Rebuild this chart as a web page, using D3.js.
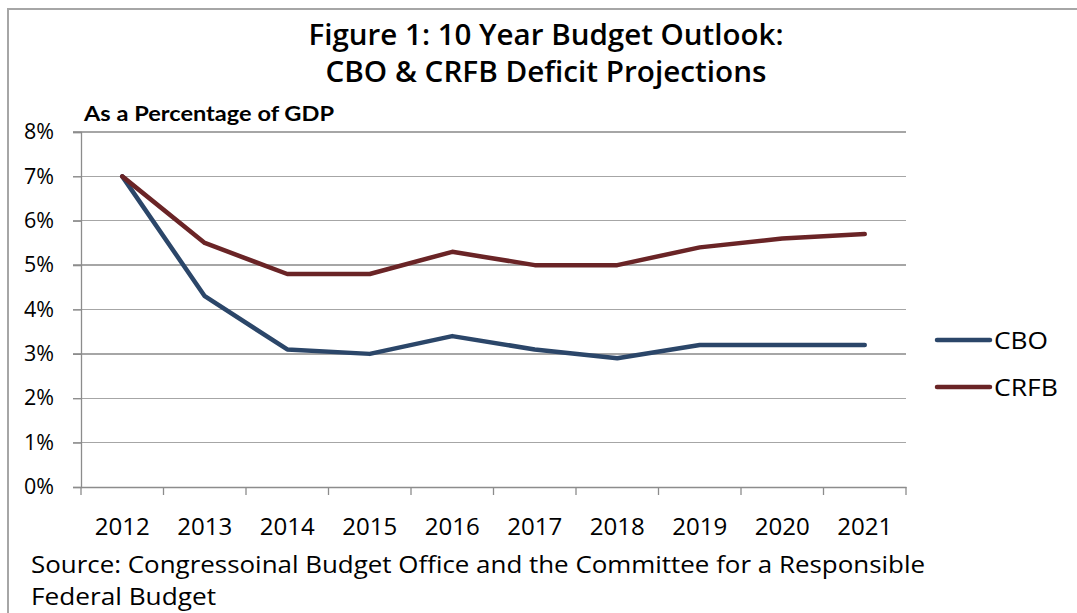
<!DOCTYPE html>
<html><head><meta charset="utf-8">
<script src="https://cdn.jsdelivr.net/npm/d3@7"></script>
<style>html,body{margin:0;padding:0;background:#fff;}svg{display:block;}</style>
</head><body>
<svg id="chart" width="1077" height="613"></svg>
<script>
const years = ["2012","2013","2014","2015","2016","2017","2018","2019","2020","2021"];
const cbo  = [7.0, 4.3, 3.1, 3.0, 3.4, 3.1, 2.9, 3.2, 3.2, 3.2];
const crfb = [7.0, 5.5, 4.8, 4.8, 5.3, 5.0, 5.0, 5.4, 5.6, 5.7];
const yTicks = [0,1,2,3,4,5,6,7,8];
const seriesNames = ["CBO","CRFB"];
const seriesColors = ["#2b4669","#6a2426"];
const titleLines = ["Figure 1: 10 Year Budget Outlook:","CBO & CRFB Deficit Projections"];
const subtitle = "As a Percentage of GDP";
const sourceLines = ["Source: Congressoinal Budget Office and the Committee for a Responsible","Federal Budget"];

(function(){
const svg = d3.select("#chart");
const FONT = "'Open Sans', Lato, sans-serif";

// frame
svg.append("path").attr("d","M8,613 L8,9 L1077,9")
  .attr("fill","none").attr("stroke","#a6a6a6").attr("stroke-width",2);

const pl=81, pr=906, pt=132, pb=487;
const x = d3.scaleBand().domain(years).range([pl,pr]);
const y = d3.scaleLinear().domain([0,8]).range([pb,pt]);

// gridlines
svg.append("g").selectAll("line").data(yTicks.filter(d=>d>0)).join("line")
  .attr("x1",pl-8).attr("x2",pr).attr("y1",d=>y(d)).attr("y2",d=>y(d))
  .attr("stroke","#a6a6a6").attr("stroke-width",1.3).attr("shape-rendering","crispEdges");

// y axis
const yAxis = svg.append("g").attr("transform",`translate(${pl},0)`)
  .call(d3.axisLeft(y).tickValues(yTicks).tickFormat(d=>d+"%").tickSize(8).tickPadding(19));
yAxis.select(".domain").attr("stroke","#8c8c8c").attr("stroke-width",1.3);
yAxis.selectAll(".tick line").attr("stroke","#8c8c8c").attr("stroke-width",1.3);
yAxis.selectAll("text").attr("font-family",FONT).attr("font-size",21).attr("fill","#000")
  .attr("textLength",30).attr("lengthAdjust","spacingAndGlyphs");

// x axis
const xAxis = svg.append("g").attr("transform",`translate(0,${pb})`)
  .call(d3.axisBottom(x).tickSize(0).tickPadding(32));
xAxis.select(".domain").attr("stroke","#8c8c8c").attr("stroke-width",1.3);
xAxis.selectAll("text").attr("font-family",FONT).attr("font-size",23).attr("fill","#000")
  .attr("textLength",55).attr("lengthAdjust","spacingAndGlyphs");
// category boundary ticks
const bounds = years.map(d=>x(d)).concat([pr]);
svg.append("g").selectAll("line").data(bounds).join("line")
  .attr("x1",d=>d).attr("x2",d=>d).attr("y1",pb).attr("y2",pb+8)
  .attr("stroke","#8c8c8c").attr("stroke-width",1.3);

// lines
const line = d3.line().x((d,i)=>x(years[i])+x.bandwidth()/2).y(d=>y(d));
[cbo,crfb].forEach((s,i)=>{
  svg.append("path").datum(s).attr("d",line).attr("fill","none")
    .attr("stroke",seriesColors[i]).attr("stroke-width",4.5)
    .attr("stroke-linejoin","round").attr("stroke-linecap","round");
});

// legend
const legendW = [54, 64];
const lg = svg.append("g").selectAll("g").data(seriesNames).join("g")
  .attr("transform",(d,i)=>`translate(937,${340+i*47})`);
lg.append("line").attr("x1",0).attr("x2",53).attr("stroke",(d,i)=>seriesColors[i])
  .attr("stroke-width",4.5).attr("stroke-linecap","round");
lg.append("text").attr("x",57).attr("y",8.5).text(d=>d)
  .attr("font-family",FONT).attr("font-size",23.5).attr("fill","#000")
  .attr("textLength",(d,i)=>legendW[i]).attr("lengthAdjust","spacingAndGlyphs");

// title
const titleW = [475, 441];
svg.append("g").selectAll("text").data(titleLines).join("text")
  .attr("x",546).attr("y",(d,i)=>45+i*37).attr("text-anchor","middle")
  .attr("font-family",FONT).attr("font-weight",600).attr("font-size",28).attr("fill","#000")
  .attr("textLength",(d,i)=>titleW[i]).attr("lengthAdjust","spacingAndGlyphs")
  .text(d=>d);

svg.append("text").attr("x",84).attr("y",121).text(subtitle)
  .attr("font-family","Lato, sans-serif").attr("font-weight",700).attr("font-size",20).attr("fill","#000")
  .attr("textLength",250).attr("lengthAdjust","spacingAndGlyphs");

// source
const sourceW = [894, 185];
svg.append("g").selectAll("text").data(sourceLines).join("text")
  .attr("x",31).attr("y",(d,i)=>573+i*32).text(d=>d)
  .attr("font-family",FONT).attr("font-size",23).attr("fill","#000")
  .attr("textLength",(d,i)=>sourceW[i]).attr("lengthAdjust","spacingAndGlyphs");
})();
</script>
</body></html>
